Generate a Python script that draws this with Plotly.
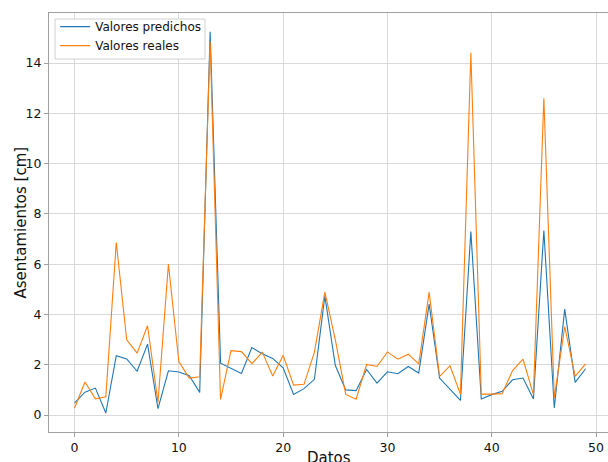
import plotly.graph_objects as go

datos = list(range(50))
predichos = [0.48, 0.91, 1.07, 0.08, 2.36, 2.23, 1.74, 2.82, 0.25, 1.76,
             1.71, 1.56, 0.90, 15.24, 2.06, 1.84, 1.65, 2.68, 2.44, 2.25,
             1.88, 0.82, 1.05, 1.42, 4.74, 1.98, 1.00, 0.97, 1.81, 1.27,
             1.72, 1.64, 1.93, 1.67, 4.41, 1.47, 1.03, 0.58, 7.30, 0.64,
             0.81, 0.94, 1.40, 1.47, 0.64, 7.34, 0.28, 4.21, 1.30, 1.84]
reales = [0.28, 1.31, 0.64, 0.72, 6.86, 2.99, 2.46, 3.55, 0.50, 6.00,
          2.13, 1.47, 1.52, 14.85, 0.62, 2.56, 2.52, 2.04, 2.50, 1.55,
          2.37, 1.19, 1.22, 2.50, 4.89, 3.00, 0.82, 0.63, 2.01, 1.93,
          2.51, 2.22, 2.42, 2.03, 4.89, 1.54, 1.96, 0.83, 14.41, 0.83,
          0.83, 0.85, 1.77, 2.22, 0.81, 12.60, 0.68, 3.52, 1.54, 2.03]
x_ticks = [0, 10, 20, 30, 40, 50]
y_ticks = [0, 2, 4, 6, 8, 10, 12, 14]
x_title = "Datos"
y_title = "Asentamientos [cm]"

font = "DejaVu Sans"
W, H = 608, 462
L, R, T, B = 49, 0, 13, 30
PW, PH = W - L - R, H - T - B

fig = go.Figure()
fig.add_trace(go.Scatter(x=datos, y=predichos, mode="lines", name="Valores predichos",
                         line=dict(color="#1f77b4", width=1.1)))
fig.add_trace(go.Scatter(x=datos, y=reales, mode="lines", name="Valores reales",
                         line=dict(color="#ff7f0e", width=1.1)))

axis_common = dict(showgrid=True, gridcolor="#d9d9d9", gridwidth=1,
                   showline=True, linecolor="#a0a0a0", linewidth=1, mirror=True,
                   ticks="outside", ticklen=4, tickcolor="#a0a0a0",
                   zeroline=False, automargin=False,
                   tickfont=dict(family=font, size=12.5, color="#111"))

# legend frame (matplotlib-like)
fig.add_shape(type="rect", xref="paper", yref="paper",
              x0=(55 - L) / PW, x1=(205 - L) / PW,
              y0=1 - (59 - T) / PH, y1=1 - (19 - T) / PH,
              fillcolor="white", line=dict(color="#d0d0d0", width=1), layer="above")

fig.add_annotation(text=y_title, xref="paper", yref="paper",
                   x=-(L - 20) / PW, y=0.5, xanchor="center", yanchor="middle",
                   textangle=-90, showarrow=False,
                   font=dict(family=font, size=15, color="#111"))
fig.add_annotation(text=x_title, xref="paper", yref="paper",
                   x=0.5, y=0, xanchor="center", yanchor="top",
                   yshift=-15, showarrow=False,
                   font=dict(family=font, size=15, color="#111"))

fig.update_layout(
    width=W, height=H,
    margin=dict(l=L, r=R, t=T, b=B),
    paper_bgcolor="white", plot_bgcolor="white",
    font=dict(family=font, size=12, color="#111"),
    xaxis=dict(range=[-2.45, 51.15], tickvals=x_ticks, **axis_common),
    yaxis=dict(range=[-0.676, 15.99], tickvals=y_ticks, **axis_common),
    legend=dict(x=0.011, y=1.002, xanchor="left", yanchor="top",
                bgcolor="rgba(0,0,0,0)", borderwidth=0,
                font=dict(family=font, size=12, color="#111"),
                itemwidth=30, tracegroupgap=0),
    showlegend=True,
)

fig.write_html("out.html", config={"displayModeBar": False},
               post_script="document.body.style.margin='0';")
